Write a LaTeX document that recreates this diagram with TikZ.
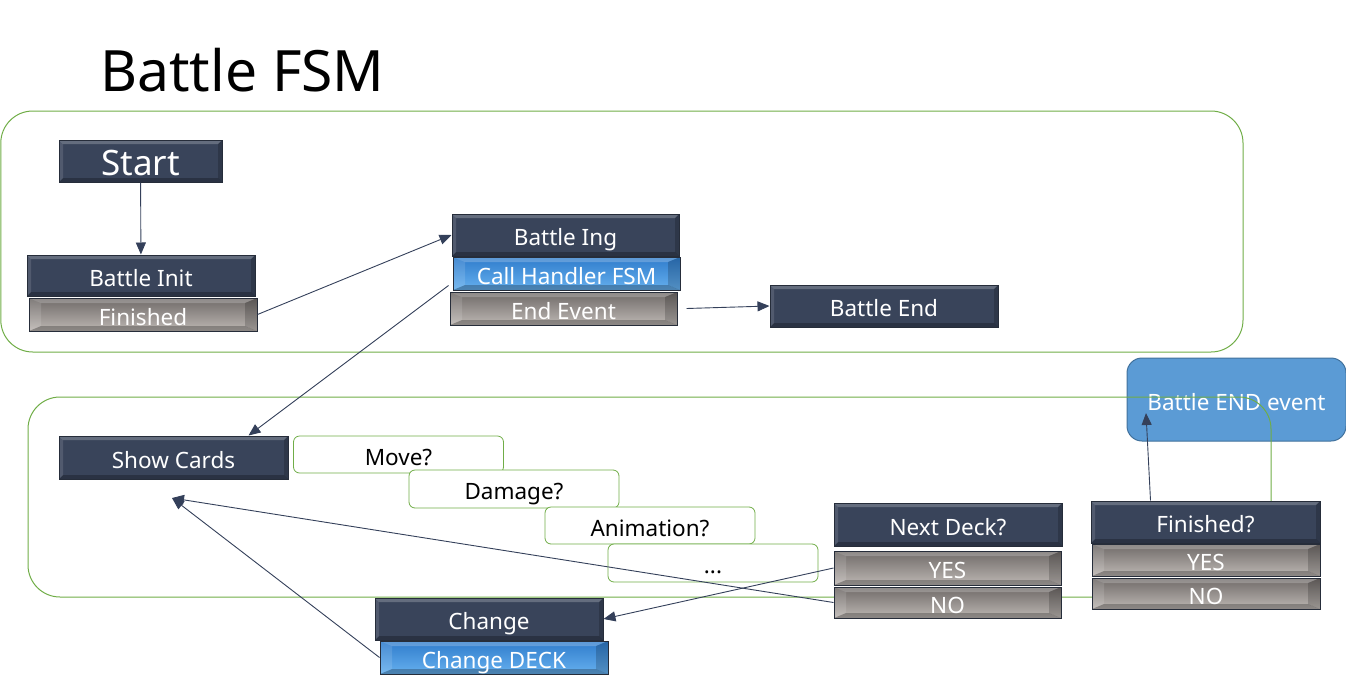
\documentclass[tikz,border=0pt]{standalone}
\usepackage{fontspec}
\setmainfont{Noto Sans}
\usetikzlibrary{arrows.meta}
\definecolor{navy}{HTML}{39445A}
\definecolor{navyd}{HTML}{262D3A}
\definecolor{grayt}{HTML}{6F6A68}
\definecolor{grayb}{HTML}{BDB7B3}
\definecolor{bluet}{HTML}{2F7CCC}
\definecolor{blueb}{HTML}{66B0EE}
\definecolor{grn}{HTML}{70AD47}
\definecolor{beefill}{HTML}{5B9BD5}
\definecolor{beedraw}{HTML}{41719C}
\definecolor{arrc}{HTML}{34405A}
\newcommand\bvl[2]{%
  \fill[white,opacity=.22] (path picture bounding box.north west) -- (path picture bounding box.north east)
    -- ([xshift=-#1,yshift=-#2]path picture bounding box.north east) -- ([xshift=#1,yshift=-#2]path picture bounding box.north west) -- cycle;
  \fill[black,opacity=.25] (path picture bounding box.south west) -- (path picture bounding box.south east)
    -- ([xshift=-#1,yshift=#2]path picture bounding box.south east) -- ([xshift=#1,yshift=#2]path picture bounding box.south west) -- cycle;
  \fill[white,opacity=.12] (path picture bounding box.north west) -- ([xshift=#1,yshift=-#2]path picture bounding box.north west)
    -- ([xshift=#1,yshift=#2]path picture bounding box.south west) -- (path picture bounding box.south west) -- cycle;
  \fill[black,opacity=.18] (path picture bounding box.north east) -- ([xshift=-#1,yshift=-#2]path picture bounding box.north east)
    -- ([xshift=-#1,yshift=#2]path picture bounding box.south east) -- (path picture bounding box.south east) -- cycle;}
\newcommand\fsz{\fontsize{22.5}{26}\selectfont}
\begin{document}
\begin{tikzpicture}[x=1pt,y=-1pt,
  txt/.style={text height=21pt,text depth=0pt,inner sep=0pt},
  navybox/.style={txt,fill=navy,draw=navyd,line width=1pt,text=white,font=\fsz,path picture={\bvl{4pt}{4pt}}},
  graybox/.style={txt,top color=grayt,bottom color=grayb,draw=navyd,line width=1pt,text=white,font=\fsz,path picture={\bvl{12pt}{5pt}}},
  bluebox/.style={txt,top color=bluet,bottom color=blueb,draw=navyd,line width=1pt,text=white,font=\fsz,path picture={\bvl{12pt}{5pt}}},
  qbox/.style={txt,fill=white,draw=grn,line width=0.8pt,rounded corners=6pt,font=\fsz,minimum width=210pt},
  grect/.style={draw=grn,line width=1pt,rounded corners=32pt},
  arr/.style={draw=arrc,line width=0.9pt,-{Triangle[length=12pt,width=10pt]}}]
\useasboundingbox (0,0) rectangle (1346,688);
\node[anchor=base west,font=\fontsize{57}{66}\selectfont,inner sep=0pt] (title) at (100,91) {Battle FSM};
\draw[grect] (0.8,111) rectangle (1243,352);
\node[txt,fill=beefill,draw=beedraw,line width=1pt,rounded corners=15pt,minimum width=219pt,minimum height=83pt,text=white,font=\fsz] (bee) at (1236.5,399.5) {Battle END event};
\draw[grect] (1092,597) -- (28,597) -- (28,397) -- (1271,397) -- (1271,502);
% top frame
\node[navybox,minimum width=163pt,minimum height=42pt,font=\fontsize{35}{40}\selectfont,text height=29pt] (start) at (140.5,161) {Start};
\node[navybox,minimum width=228pt,minimum height=41pt] (init) at (141,275.5) {Battle Init};
\node[graybox,minimum width=228pt,minimum height=33pt] (fin) at (143,314.5) {Finished};
\node[navybox,minimum width=227pt,minimum height=42pt] (ing) at (565.5,235) {Battle Ing};
\node[bluebox,minimum width=227pt,minimum height=33pt] (callh) at (566.5,273.5) {Call Handler FSM};
\node[graybox,minimum width=227pt,minimum height=33pt] (endev) at (563.5,308.5) {End Event};
\node[navybox,minimum width=228pt,minimum height=42pt] (bend) at (884,306) {Battle End};
% lower frame
\node[navybox,minimum width=229pt,minimum height=43pt] (show) at (173.5,457.5) {Show Cards};
\node[qbox,minimum height=37pt] (move) at (398.5,454.5) {Move?};
\node[qbox,minimum height=38pt] (dmg) at (514,489) {Damage?};
\node[qbox,minimum height=37pt] (anim) at (650,525.5) {Animation?};
\node[qbox,minimum height=38pt] (dots) at (713,563) {...};
\node[navybox,minimum width=228pt,minimum height=43pt] (nd) at (948,524.5) {Next Deck?};
\node[graybox,minimum width=227pt,minimum height=34pt] (ndy) at (947.5,568) {YES};
\node[graybox,minimum width=227pt,minimum height=31pt] (ndn) at (947.5,602.5) {NO};
\node[navybox,minimum width=229pt,minimum height=42pt] (fq) at (1205.5,522) {Finished?};
\node[graybox,minimum width=228pt,minimum height=32pt] (fqy) at (1206,560) {YES};
\node[graybox,minimum width=228pt,minimum height=31pt] (fqn) at (1206,593.5) {NO};
\node[navybox,minimum width=228pt,minimum height=42pt] (chg) at (489,619) {Change};
\node[bluebox,minimum width=228pt,minimum height=33pt] (chgd) at (494,657.5) {Change DECK};
\coordinate (sct) at (172,498);
\coordinate (beet) at (1146,413);
% connectors
\draw[arr] (start) -- (init);
\draw[arr] (fin.east) -- (ing.west);
\draw[arr] ([xshift=-4pt,yshift=5pt]callh.south west) -- ([xshift=75pt]show.north);
\draw[arr] ([xshift=9pt]endev.east) -- (bend.west);
\draw[arr] (ndy.west) -- (chg.east);
\draw[arr] (ndn.west) -- (sct);
\draw[arr] (chgd.west) -- (sct);
\draw[arr] ([xshift=60pt]fq.north west) -- (beet);
\end{tikzpicture}
\end{document}
